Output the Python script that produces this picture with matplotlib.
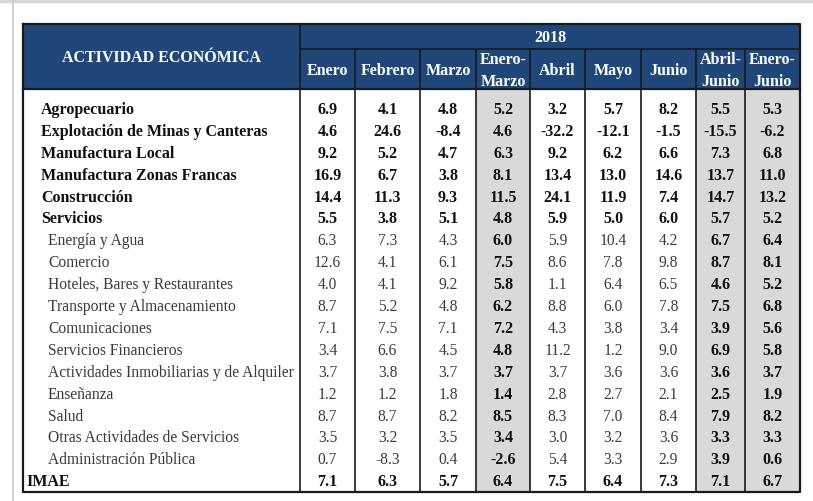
import matplotlib.pyplot as plt
from matplotlib.patches import Rectangle

columns = ["Enero", "Febrero", "Marzo", "Enero-\nMarzo", "Abril", "Mayo",
           "Junio", "Abril-\nJunio", "Enero-\nJunio"]
shaded = [False, False, False, True, False, False, False, True, True]

activities = [
    "Agropecuario", "Explotación de Minas y Canteras", "Manufactura Local",
    "Manufactura Zonas Francas", "Construcción", "Servicios",
    "Energía y Agua", "Comercio", "Hoteles, Bares y Restaurantes",
    "Transporte y Almacenamiento", "Comunicaciones", "Servicios Financieros",
    "Actividades Inmobiliarias y de Alquiler", "Enseñanza", "Salud",
    "Otras Actividades de Servicios", "Administración Pública", "IMAE",
]
# 0 = main sector (bold), 1 = sub-sector, 2 = total
levels = [0, 0, 0, 0, 0, 0, 1, 1, 1, 1, 1, 1, 1, 1, 1, 1, 1, 2]

values = [
    [6.9, 4.1, 4.8, 5.2, 3.2, 5.7, 8.2, 5.5, 5.3],
    [4.6, 24.6, -8.4, 4.6, -32.2, -12.1, -1.5, -15.5, -6.2],
    [9.2, 5.2, 4.7, 6.3, 9.2, 6.2, 6.6, 7.3, 6.8],
    [16.9, 6.7, 3.8, 8.1, 13.4, 13.0, 14.6, 13.7, 11.0],
    [14.4, 11.3, 9.3, 11.5, 24.1, 11.9, 7.4, 14.7, 13.2],
    [5.5, 3.8, 5.1, 4.8, 5.9, 5.0, 6.0, 5.7, 5.2],
    [6.3, 7.3, 4.3, 6.0, 5.9, 10.4, 4.2, 6.7, 6.4],
    [12.6, 4.1, 6.1, 7.5, 8.6, 7.8, 9.8, 8.7, 8.1],
    [4.0, 4.1, 9.2, 5.8, 1.1, 6.4, 6.5, 4.6, 5.2],
    [8.7, 5.2, 4.8, 6.2, 8.8, 6.0, 7.8, 7.5, 6.8],
    [7.1, 7.5, 7.1, 7.2, 4.3, 3.8, 3.4, 3.9, 5.6],
    [3.4, 6.6, 4.5, 4.8, 11.2, 1.2, 9.0, 6.9, 5.8],
    [3.7, 3.8, 3.7, 3.7, 3.7, 3.6, 3.6, 3.6, 3.7],
    [1.2, 1.2, 1.8, 1.4, 2.8, 2.7, 2.1, 2.5, 1.9],
    [8.7, 8.7, 8.2, 8.5, 8.3, 7.0, 8.4, 7.9, 8.2],
    [3.5, 3.2, 3.5, 3.4, 3.0, 3.2, 3.6, 3.3, 3.3],
    [0.7, -8.3, 0.4, -2.6, 5.4, 3.3, 2.9, 3.9, 0.6],
    [7.1, 6.3, 5.7, 6.4, 7.5, 6.4, 7.3, 7.1, 6.7],
]

year = "2018"
header_title = "ACTIVIDAD ECONÓMICA"

blue = "#1f4779"
grey = "#d9d9d9"
serif = ["Liberation Serif", "DejaVu Serif"]
fs_bold, fs_reg = 11.5, 11.2

fig = plt.figure(figsize=(8.13, 5.02), dpi=100)
ax = fig.add_axes([0, 0, 1, 1])
ax.set_xlim(0, 813)
ax.set_ylim(502, 0)
ax.axis("off")

# page frame lines of the screenshot
ax.plot([0, 813], [1.5, 1.5], color="#d8d8d8", lw=2.5)
ax.plot([13, 13], [0, 502], color="#c8c8c8", lw=1.2)

left, top, right, bottom = 23, 25, 800, 493
head_mid, head_bot = 50, 90
xs = [300, 355, 420, 476, 530, 585, 641, 696, 745, 800]
row0, dy = 110, 21.9

# header background
ax.add_patch(Rectangle((left, top), right - left, head_bot - top,
                       facecolor=blue, edgecolor="none"))
# shaded columns
for j, s in enumerate(shaded):
    if s:
        ax.add_patch(Rectangle((xs[j], head_bot), xs[j + 1] - xs[j],
                               bottom - head_bot, facecolor=grey,
                               edgecolor="none"))

# lines
ax.plot([left, right, right, left, left], [top, top, bottom, bottom, top],
        color="#1a1a1a", lw=1.6)
ax.plot([left, right], [head_bot, head_bot], color="#1a1a1a", lw=1.6)
ax.plot([xs[0], right], [head_mid, head_mid], color="#1a1a1a", lw=1.2)
ax.plot([xs[0], xs[0]], [top, bottom], color="#1a1a1a", lw=1.2)
for x in xs[1:-1]:
    ax.plot([x, x], [head_mid, bottom], color="#1a1a1a", lw=1.2)

ax.text((left + xs[0]) / 2, 58, header_title, color="white", fontsize=fs_bold,
        fontweight="bold", family=serif, ha="center", va="center")
ax.text((xs[0] + right) / 2, 38, year, color="white", fontsize=fs_bold,
        fontweight="bold", family=serif, ha="center", va="center")
for j, c in enumerate(columns):
    ax.text((xs[j] + xs[j + 1]) / 2, 71, c, color="white", fontsize=fs_bold,
            fontweight="bold", family=serif, ha="center", va="center",
            linespacing=1.55)

for i, (name, lvl, row) in enumerate(zip(activities, levels, values)):
    y = row0 + i * dy
    if lvl == 0:
        ax.text(41, y, name, fontsize=fs_bold, fontweight="bold",
                family=serif, ha="left", va="center", color="#111")
    elif lvl == 1:
        ax.text(48, y, name, fontsize=fs_reg, family=serif, ha="left",
                va="center", color="#3a3a3a")
    else:
        ax.text(26, y, name, fontsize=fs_bold, fontweight="bold",
                family=serif, ha="left", va="center", color="#111")
    for j, v in enumerate(row):
        bold = lvl != 1 or shaded[j]
        ax.text((xs[j] + xs[j + 1]) / 2, y, f"{v:.1f}",
                fontsize=fs_bold if bold else fs_reg,
                fontweight="bold" if bold else "normal", family=serif,
                ha="center", va="center",
                color="#111" if bold else "#3a3a3a")

fig.savefig("out.png", dpi=100)
